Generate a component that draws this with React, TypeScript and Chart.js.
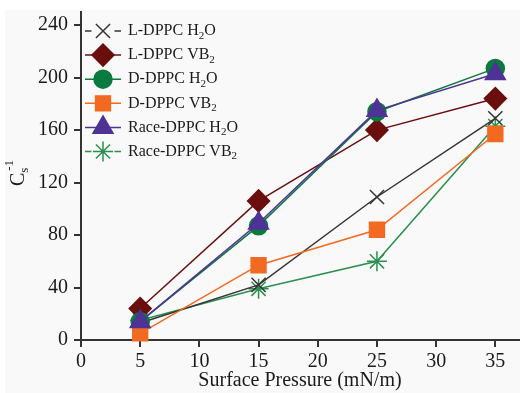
import React, { useEffect, useRef } from "react";
import { Chart, registerables } from "chart.js";
import * as helpers from "chart.js/helpers";

Chart.register(...registerables);

const pressures = [5, 15, 25, 35];
const lDppcH2O = [13, 42, 109, 169];
const lDppcVB2 = [24, 106, 160, 184];
const dDppcH2O = [14, 87, 174, 207];
const dDppcVB2 = [5, 57, 84, 157];
const raceDppcH2O = [14, 89, 175, 203];
const raceDppcVB2 = [15, 39, 60, 163];

const legendLabels: [string, string, string][] = [
  ["L-DPPC H", "2", "O"],
  ["L-DPPC VB", "2", ""],
  ["D-DPPC H", "2", "O"],
  ["D-DPPC VB", "2", ""],
  ["Race-DPPC H", "2", "O"],
  ["Race-DPPC VB", "2", ""],
];
const xTitle = "Surface Pressure (mN/m)";
const yTitleParts = ["C", "s", "-1"];

const seriesValues = [lDppcH2O, lDppcVB2, dDppcH2O, dDppcVB2, raceDppcH2O, raceDppcVB2];
const colors = ["#353535", "#6a0e0e", "#0b7a3e", "#f26a21", "#4e3295", "#2a8f4f"];
const styles = ["crossRot", "rectRot", "circle", "rect", "triangle", "star"];
const radii = [10, 11, 9, 10.5, 11.5, 10];
const orders = [4, 3, 2, 1, 0, 5];

const FONT = '"Liberation Serif", "Times New Roman", serif';

const bgPlugin = {
  id: "bgPlugin",
  beforeDraw(chart: any) {
    const ctx = chart.ctx;
    ctx.save();
    ctx.fillStyle = "#ffffff";
    ctx.fillRect(0, 0, chart.width, chart.height);
    ctx.fillStyle = "#f9f9f9";
    ctx.fillRect(5, 10, chart.width - 5, chart.height - 10);
    ctx.restore();
  },
};

const overlayPlugin = {
  id: "overlayPlugin",
  afterDraw(chart: any) {
    const ctx = chart.ctx;
    ctx.save();
    legendLabels.forEach((parts, i) => {
      const y = 31 + i * 24.1;
      const cx = 103;
      const isCross = styles[i] === "crossRot" || styles[i] === "star";
      const gap = isCross ? radii[i] + 1.5 : 0;
      ctx.strokeStyle = colors[i];
      ctx.fillStyle = colors[i];
      ctx.lineWidth = 1.5;
      ctx.beginPath();
      if (gap > 0) {
        ctx.moveTo(85, y);
        ctx.lineTo(cx - gap, y);
        ctx.moveTo(cx + gap, y);
        ctx.lineTo(121, y);
      } else {
        ctx.moveTo(85, y);
        ctx.lineTo(121, y);
      }
      ctx.stroke();
      helpers.drawPoint(
        ctx,
        { pointStyle: styles[i], radius: radii[i], rotation: 0, borderWidth: 1.5 } as any,
        cx,
        y
      );
      ctx.fillStyle = "#1a1a1a";
      ctx.textBaseline = "middle";
      ctx.textAlign = "left";
      ctx.font = `16px ${FONT}`;
      let x = 128;
      ctx.fillText(parts[0], x, y);
      x += ctx.measureText(parts[0]).width;
      ctx.font = `11px ${FONT}`;
      ctx.fillText(parts[1], x, y + 5);
      x += ctx.measureText(parts[1]).width;
      ctx.font = `16px ${FONT}`;
      if (parts[2]) ctx.fillText(parts[2], x, y);
    });

    ctx.fillStyle = "#1a1a1a";
    ctx.font = `20px ${FONT}`;
    ctx.textAlign = "center";
    ctx.textBaseline = "middle";
    ctx.fillText(xTitle, 300, 381);

    ctx.translate(19, 174);
    ctx.rotate(-Math.PI / 2);
    ctx.textAlign = "left";
    ctx.font = `20px ${FONT}`;
    const wC = ctx.measureText(yTitleParts[0]).width;
    ctx.font = `13px ${FONT}`;
    const wS = ctx.measureText(yTitleParts[1]).width;
    const wE = ctx.measureText(yTitleParts[2]).width;
    const total = wC + Math.max(wS, wE);
    let x = -total / 2;
    ctx.font = `20px ${FONT}`;
    ctx.fillText(yTitleParts[0], x, 0);
    x += wC;
    ctx.font = `13px ${FONT}`;
    ctx.fillText(yTitleParts[1], x, 6);
    ctx.fillText(yTitleParts[2], x + 2, -9);
    ctx.restore();
  },
};

export default function App() {
  const ref = useRef<HTMLCanvasElement | null>(null);
  useEffect(() => {
    if (!ref.current) return;
    const datasets = seriesValues.map((vals, i) => ({
      label: legendLabels[i].join(""),
      data: pressures.map((p, j) => ({ x: p, y: vals[j] })),
      borderColor: colors[i],
      backgroundColor: colors[i],
      borderWidth: 1.5,
      pointStyle: styles[i] as any,
      pointRadius: radii[i],
      pointBorderWidth: 1.5,
      pointBorderColor: colors[i],
      pointBackgroundColor: colors[i],
      tension: 0,
      order: orders[i],
      clip: false as any,
    }));
    const chart = new Chart(ref.current, {
      type: "line",
      data: { datasets },
      plugins: [bgPlugin, overlayPlugin],
      options: {
        responsive: false,
        animation: false,
        devicePixelRatio: 1,
        layout: { autoPadding: false, padding: { top: 12, right: 1, left: 0, bottom: 0 } },
        plugins: { legend: { display: false }, tooltip: { enabled: false } },
        scales: {
          x: {
            type: "linear",
            min: 0,
            max: 37,
            afterFit(s: any) {
              s.height = 53;
              s.paddingLeft = 0;
              s.paddingRight = 0;
            },
            ticks: {
              stepSize: 5,
              includeBounds: false,
              autoSkip: false,
              maxRotation: 0,
              padding: 3,
              color: "#1a1a1a",
              font: { family: FONT, size: 20 },
            },
            grid: { display: true, drawOnChartArea: false, drawTicks: true, tickLength: 7, color: "#333", lineWidth: 2 },
            border: { display: true, color: "#333", width: 2 },
          },
          y: {
            type: "linear",
            min: 0,
            max: 250,
            afterFit(s: any) {
              s.width = 81;
              s.paddingTop = 0;
              s.paddingBottom = 0;
            },
            ticks: {
              stepSize: 40,
              includeBounds: false,
              padding: 6,
              color: "#1a1a1a",
              font: { family: FONT, size: 20 },
            },
            grid: { display: true, drawOnChartArea: false, drawTicks: true, tickLength: 7, color: "#333", lineWidth: 2 },
            border: { display: true, color: "#333", width: 2 },
          },
        },
      },
    });
    return () => chart.destroy();
  }, []);
  return (
    <div style={{ position: "fixed", left: 0, top: 0, width: 520, height: 393 }}>
      <canvas ref={ref} width={520} height={393} style={{ width: 520, height: 393 }} />
    </div>
  );
}
